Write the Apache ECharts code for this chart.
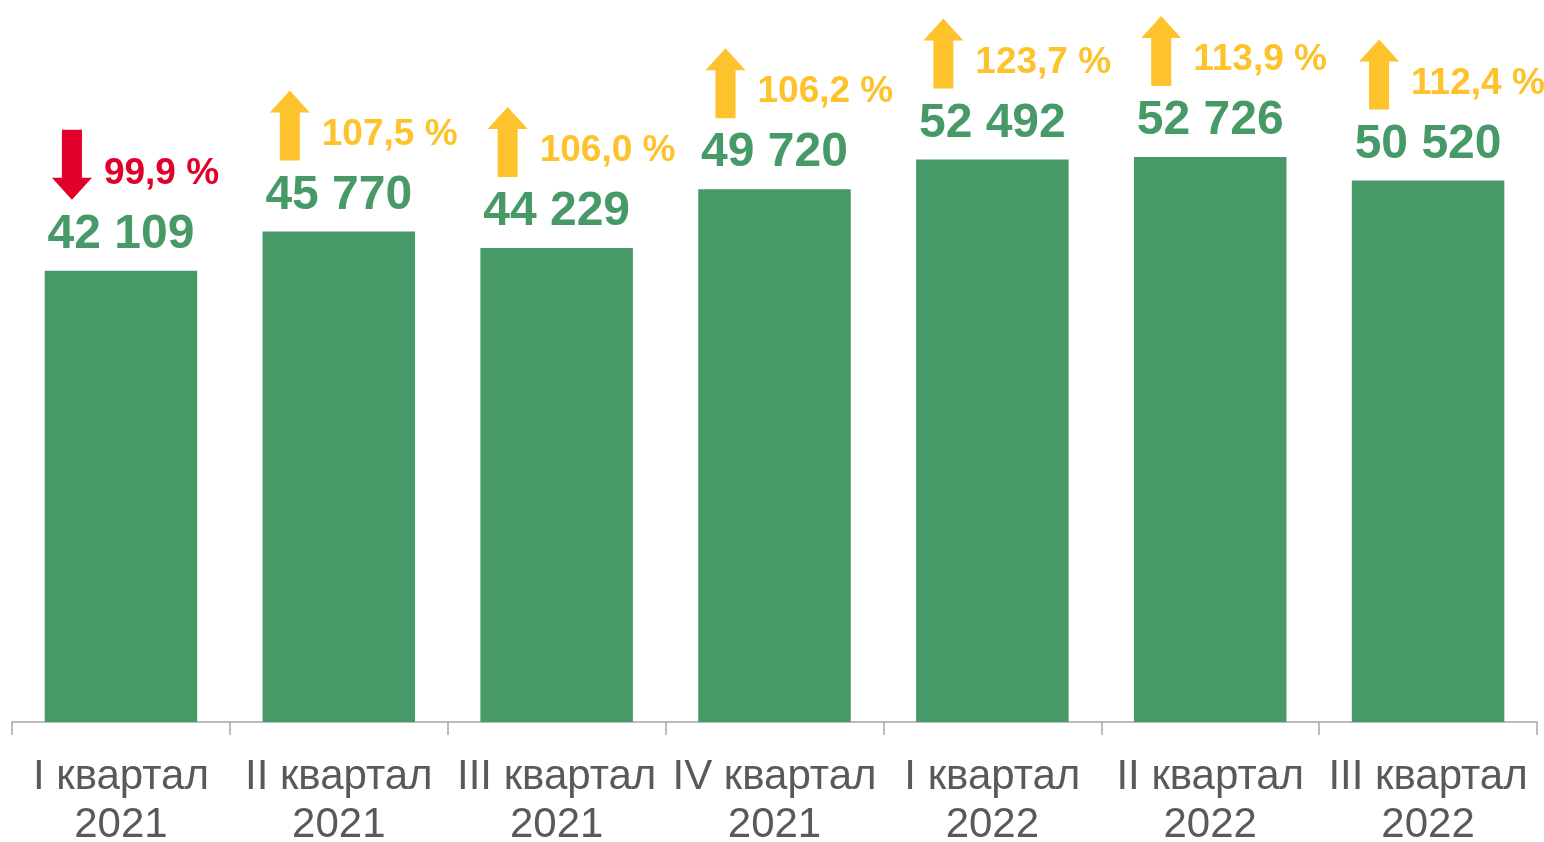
<!DOCTYPE html>
<html>
<head>
<meta charset="utf-8">
<script src="https://cdn.jsdelivr.net/npm/echarts@6/dist/echarts.min.js"></script>
<style>
  html, body { margin: 0; padding: 0; background: #fff; }
  #chart { width: 1544px; height: 842px; }
</style>
</head>
<body>
<div id="chart"></div>
<script>
// quarters and values
const quarters = ['I квартал', 'II квартал', 'III квартал', 'IV квартал', 'I квартал', 'II квартал', 'III квартал']
const years = ['2021', '2021', '2021', '2021', '2022', '2022', '2022']
const amounts = [42109, 45770, 44229, 49720, 52492, 52726, 50520]
const growth = [99.9, 107.5, 106.0, 106.2, 123.7, 113.9, 112.4]

const GREEN = '#479a68'
const UP = '#fec22d'
const DOWN = '#e2002a'
const FONT = '"Liberation Sans", Arial, sans-serif'

const fmtNum = v => String(v).replace(/\B(?=(\d{3})+(?!\d))/g, ' ')
const fmtPct = v => v.toFixed(1).replace('.', ',') + ' %'

const chart = echarts.init(document.getElementById('chart'))

// arrow + percent drawn relative to the top of each bar
function renderGrowth(params, api) {
  const idx = api.value(0)
  const pct = api.value(2)
  const top = api.coord([idx, api.value(1)])
  const up = pct >= 100
  const color = up ? UP : DOWN
  const cx = top[0] - 49
  const y0 = top[1] - 141 // arrow top
  const y1 = top[1] - 71 // arrow bottom
  const hw = 20, sw = 10, head = 22
  let pts
  if (up) {
    pts = [[cx, y0], [cx + hw, y0 + head], [cx + sw, y0 + head], [cx + sw, y1],
      [cx - sw, y1], [cx - sw, y0 + head], [cx - hw, y0 + head]]
  } else {
    pts = [[cx, y1], [cx + hw, y1 - head], [cx + sw, y1 - head], [cx + sw, y0],
      [cx - sw, y0], [cx - sw, y1 - head], [cx - hw, y1 - head]]
  }
  return {
    type: 'group',
    children: [
      { type: 'polygon', shape: { points: pts }, style: { fill: color } },
      {
        type: 'text',
        style: {
          text: fmtPct(pct),
          x: top[0] - 17,
          y: top[1] - 97,
          fill: color,
          font: 'bold 37px ' + FONT,
          align: 'left',
          verticalAlign: 'middle'
        }
      }
    ]
  }
}

chart.setOption({
  animation: false,
  grid: { left: 12, right: 7, top: 79, bottom: 120, outerBoundsMode: 'none' },
  xAxis: {
    type: 'category',
    data: quarters.map((q, i) => q + '\n' + years[i]),
    axisLine: { lineStyle: { color: '#a6a6a6', width: 1.5 } },
    axisTick: { show: true, length: 13, lineStyle: { color: '#a6a6a6', width: 1.5 } },
    axisLabel: {
      color: '#595959',
      fontFamily: FONT,
      fontSize: 42,
      lineHeight: 48,
      margin: 31,
      interval: 0
    }
  },
  yAxis: {
    type: 'value',
    min: 0,
    max: 60000,
    show: false,
    splitLine: { show: false }
  },
  series: [
    {
      type: 'bar',
      data: amounts,
      barCategoryGap: '30%',
      itemStyle: { color: GREEN },
      label: {
        show: true,
        position: 'top',
        distance: 12,
        color: GREEN,
        fontFamily: FONT,
        fontWeight: 'bold',
        fontSize: 48,
        formatter: p => fmtNum(p.value)
      }
    },
    {
      type: 'custom',
      renderItem: renderGrowth,
      data: amounts.map((v, i) => [i, v, growth[i]]),
      z: 5,
      silent: true
    }
  ]
})
</script>
</body>
</html>
